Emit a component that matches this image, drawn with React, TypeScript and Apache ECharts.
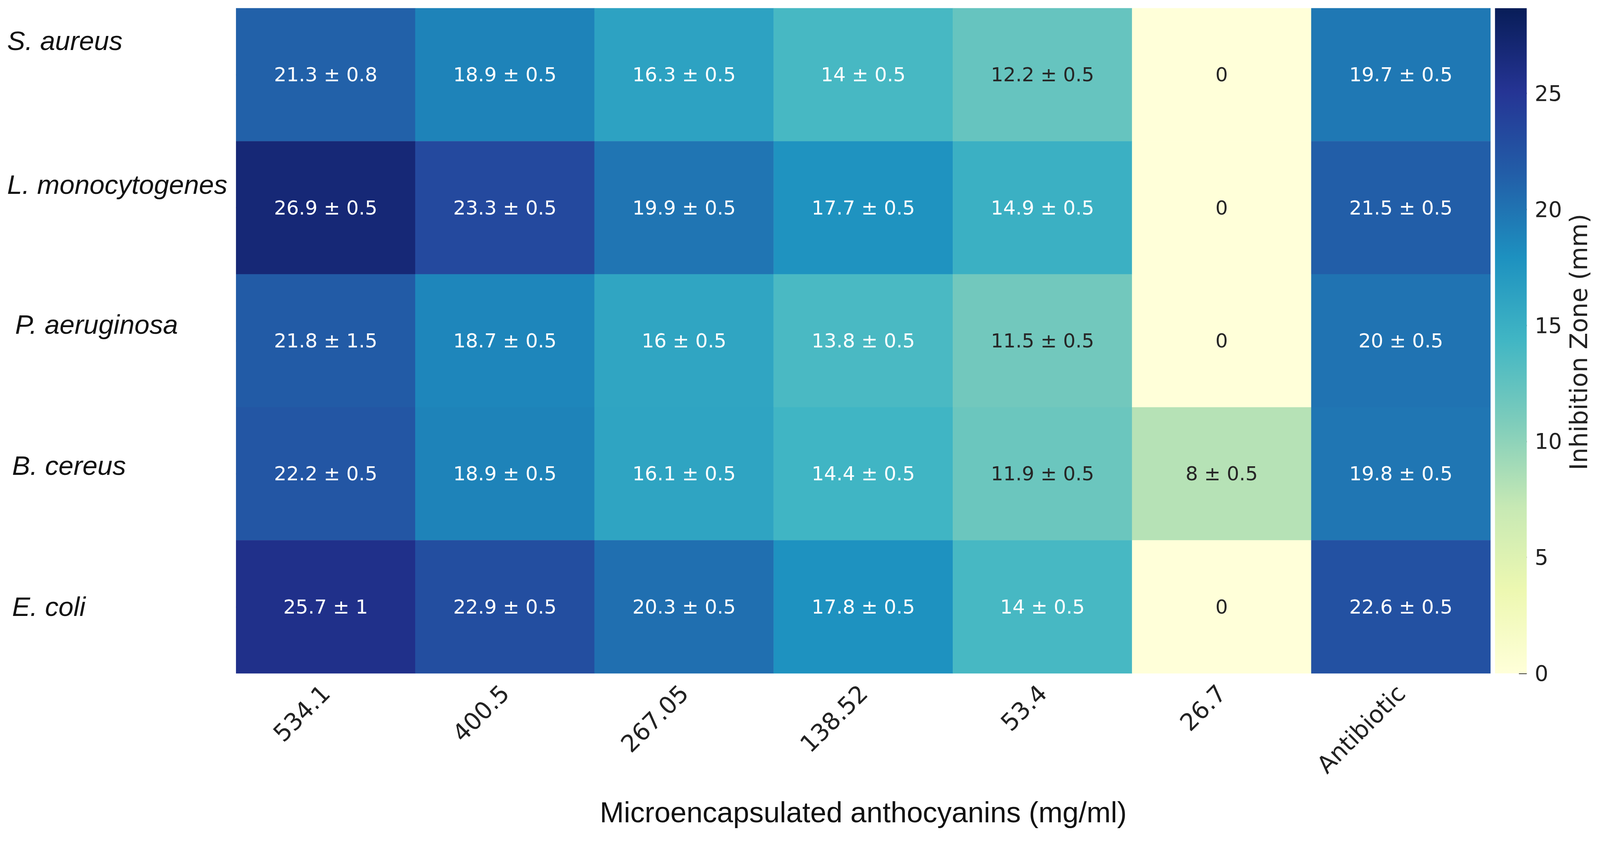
import React, { useEffect, useRef } from "react";
import * as echarts from "echarts";

const concentrations = ["534.1", "400.5", "267.05", "138.52", "53.4", "26.7", "Antibiotic"];
const bacteria = ["S. aureus", "L. monocytogenes", "P. aeruginosa", "B. cereus", "E. coli"];

const meanSAureus = [21.3, 18.9, 16.3, 14, 12.2, 0, 19.7];
const meanLMono = [26.9, 23.3, 19.9, 17.7, 14.9, 0, 21.5];
const meanPAerug = [21.8, 18.7, 16, 13.8, 11.5, 0, 20];
const meanBCereus = [22.2, 18.9, 16.1, 14.4, 11.9, 8, 19.8];
const meanEColi = [25.7, 22.9, 20.3, 17.8, 14, 0, 22.6];

const sdSAureus = [0.8, 0.5, 0.5, 0.5, 0.5, null, 0.5];
const sdLMono = [0.5, 0.5, 0.5, 0.5, 0.5, null, 0.5];
const sdPAerug = [1.5, 0.5, 0.5, 0.5, 0.5, null, 0.5];
const sdBCereus = [0.5, 0.5, 0.5, 0.5, 0.5, 0.5, 0.5];
const sdEColi = [1, 0.5, 0.5, 0.5, 0.5, null, 0.5];

const colorbarTicks = [0, 5, 10, 15, 20, 25];
const vMin = 0;
const vMax = 28.67;

const YLGNBU = ["#ffffd9", "#edf8b1", "#c7e9b4", "#7fcdbb", "#41b6c4", "#1d91c0", "#225ea8", "#253494", "#081d58"];

const means = [meanSAureus, meanLMono, meanPAerug, meanBCereus, meanEColi];
const sds = [sdSAureus, sdLMono, sdPAerug, sdBCereus, sdEColi];

function hexToRgb(h: string) {
  const n = parseInt(h.slice(1), 16);
  return [(n >> 16) & 255, (n >> 8) & 255, n & 255];
}
function cmap(v: number) {
  let t = (v - vMin) / (vMax - vMin);
  t = Math.max(0, Math.min(1, t));
  const p = t * (YLGNBU.length - 1);
  const i = Math.min(Math.floor(p), YLGNBU.length - 2);
  const f = p - i;
  const a = hexToRgb(YLGNBU[i]);
  const b = hexToRgb(YLGNBU[i + 1]);
  return a.map((x, k) => x + (b[k] - x) * f);
}
function luminance(rgb: number[]) {
  const lin = rgb.map((c) => {
    const s = c / 255;
    return s <= 0.03928 ? s / 12.92 : Math.pow((s + 0.055) / 1.055, 2.4);
  });
  return 0.2126 * lin[0] + 0.7152 * lin[1] + 0.0722 * lin[2];
}

export default function App() {
  const ref = useRef<HTMLDivElement>(null);
  useEffect(() => {
    document.body.style.margin = "0";
    document.body.style.overflow = "hidden";
    if (!ref.current) return;
    const chart = echarts.init(ref.current, null, { renderer: "svg" });
    const W = ref.current.clientWidth;
    const sx = W / 4236;
    const X = (v: number) => v * sx;

    const heatData: any[] = [];
    means.forEach((row, r) => {
      row.forEach((v, c) => {
        const sd = sds[r][c];
        const text = sd === null ? `${v}` : `${v} ± ${sd}`;
        const dark = luminance(cmap(v)) > 0.408;
        heatData.push({
          value: [c, r, v],
          labelText: text,
          label: { color: dark ? "#262626" : "#ffffff" },
        });
      });
    });

    // per-label layout offsets (padding: top, right, bottom, left)
    const yLabelPads = [
      [0, 0, 174, 0],
      [0, 0, 118, 0],
      [0, 0, 84, 21],
      [0, 0, 42, 13],
      [0, 0, 0, 13],
    ];
    const rich: any = {};
    yLabelPads.forEach((pad, i) => {
      rich["r" + i] = {
        fontSize: 69,
        fontStyle: "italic",
        fontFamily: "Liberation Sans",
        color: "#111",
        padding: [pad[0], pad[1], pad[2], X(pad[3])],
      };
    });

    const stops = YLGNBU.map((c, i) => ({ offset: i / (YLGNBU.length - 1), color: c }));

    const option: any = {
      animation: false,
      backgroundColor: "#ffffff",
      grid: [
        { left: X(625), right: W - X(3946), top: 21, bottom: 434, outerBoundsMode: "none" },
        { left: X(3958), width: X(84), top: 21, bottom: 434, outerBoundsMode: "none" },
      ],
      xAxis: [
        {
          type: "category",
          gridIndex: 0,
          data: concentrations,
          axisLine: { show: false },
          axisTick: { show: true, inside: true, length: 17, alignWithLabel: true, lineStyle: { color: "#222", width: 3 } },
          axisLabel: { rotate: 45, fontSize: 61, fontFamily: "DejaVu Sans", color: "#222", margin: 40 },
          splitLine: { show: false },
          name: "Microencapsulated anthocyanins (mg/ml)",
          nameLocation: "middle",
          nameGap: 355,
          nameTextStyle: { fontSize: 74, fontFamily: "Liberation Sans", color: "#111", verticalAlign: "middle" },
        },
        {
          type: "category",
          gridIndex: 1,
          data: ["cb"],
          show: false,
        },
      ],
      yAxis: [
        {
          type: "category",
          gridIndex: 0,
          inverse: true,
          data: bacteria,
          axisLine: { show: false },
          axisTick: { show: true, inside: true, length: 15, alignWithLabel: true, lineStyle: { color: "#222", width: 3 } },
          axisLabel: {
            fontSize: 69,
            fontStyle: "italic",
            fontFamily: "Liberation Sans",
            color: "#111",
            align: "left",
            verticalAlign: "middle",
            margin: X(625) - X(19),
            formatter: (v: string, i: number) => `{r${i}|${v}}`,
            rich,
          },
          splitLine: { show: false },
        },
        {
          type: "value",
          gridIndex: 1,
          position: "right",
          min: vMin,
          max: vMax,
          interval: 5,
          axisLine: { show: false },
          axisTick: { show: true, inside: true, length: 20, customValues: colorbarTicks, lineStyle: { color: "#222", width: 3.5 } },
          axisLabel: { fontSize: 55, fontFamily: "DejaVu Sans", color: "#222", margin: X(21), customValues: colorbarTicks },
          splitLine: { show: false },
        },
      ],
      visualMap: {
        type: "continuous",
        show: false,
        min: vMin,
        max: vMax,
        seriesIndex: 0,
        dimension: 2,
        inRange: { color: YLGNBU },
      },
      graphic: [
        {
          type: "text",
          x: X(4180),
          y: 875,
          rotation: Math.PI / 2,
          style: {
            text: "Inhibition Zone (mm)",
            fontSize: 62,
            fontFamily: "DejaVu Sans",
            fill: "#222",
            align: "center",
            verticalAlign: "middle",
          },
        },
      ],
      series: [
        {
          type: "heatmap",
          xAxisIndex: 0,
          yAxisIndex: 0,
          data: heatData,
          label: {
            show: true,
            fontSize: 50,
            fontFamily: "DejaVu Sans",
            formatter: (p: any) => p.data.labelText,
          },
          emphasis: { disabled: true },
          itemStyle: { borderWidth: 0 },
        },
        {
          type: "bar",
          xAxisIndex: 1,
          yAxisIndex: 1,
          data: [vMax],
          barWidth: "100%",
          silent: true,
          itemStyle: {
            color: new echarts.graphic.LinearGradient(0, 1, 0, 0, stops),
          },
        },
      ],
    };
    chart.setOption(option);
    return () => chart.dispose();
  }, []);
  return <div ref={ref} style={{ width: "100vw", height: "100vh" }} />;
}
